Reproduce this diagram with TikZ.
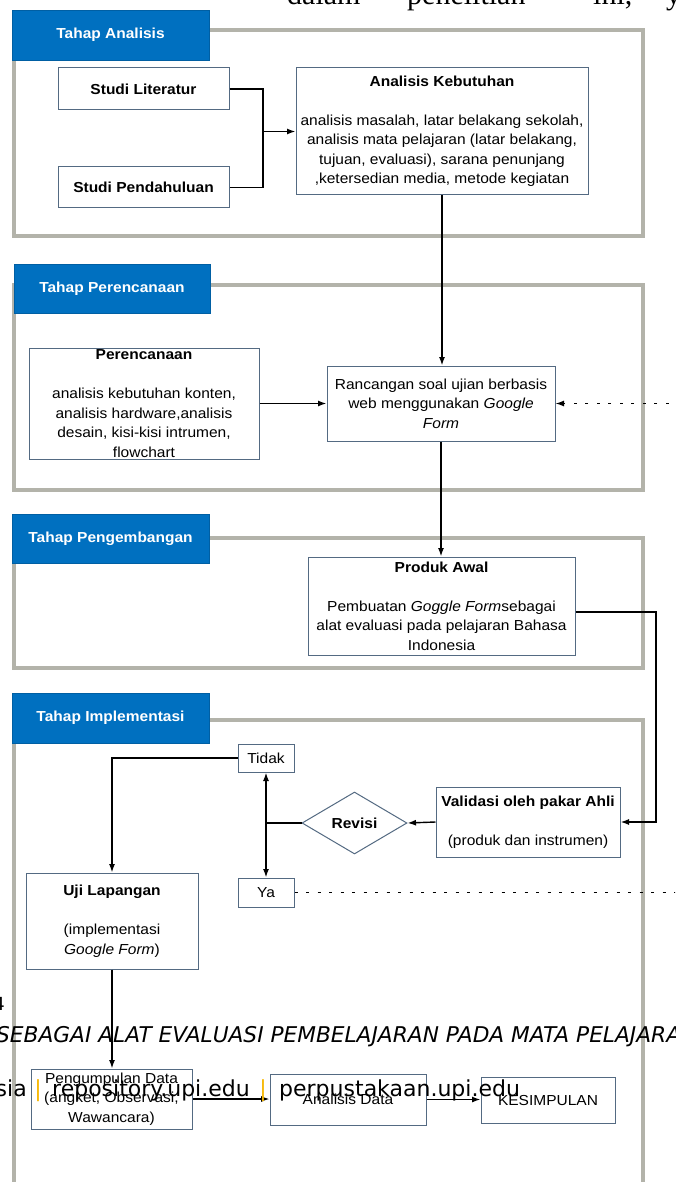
\documentclass[tikz,border=0pt]{standalone}
\usepackage{fontspec}
\setmainfont{Liberation Sans}[FakeStretch=1.07]
\newfontfamily\pageserif{Liberation Serif}
\newfontfamily\pagesans{DejaVu Sans}
\usetikzlibrary{arrows.meta,shapes.geometric}
\definecolor{hdrblue}{RGB}{0,112,192}
\definecolor{framegray}{RGB}{179,179,170}
\definecolor{boxedge}{RGB}{84,106,130}
\definecolor{upigold}{RGB}{247,183,0}
\begin{document}
\begin{tikzpicture}[x=1pt,y=-1pt,
  frame/.style={draw=framegray,line width=4pt},
  hdr/.style={fill=hdrblue,draw=hdrblue!85!black,line width=0.6pt,minimum width=197pt,minimum height=50pt,inner sep=0pt,
    text=white,font=\fontsize{14.5}{17}\selectfont\bfseries},
  bx/.style={draw=boxedge,fill=white,line width=1pt,inner sep=0pt,align=center,font=\fontsize{14.5}{19.5}\selectfont},
  ln/.style={line width=1.4pt},
  arr/.style={line width=1.4pt,-{Latex[length=8.5pt,width=6pt]}},
  dotarr/.style={line width=1.3pt,dash pattern=on 3pt off 8.5pt,-{Latex[length=8.5pt,width=6pt]}},
  pagetxt/.style={inner sep=0pt,text=black}]
\useasboundingbox (0,0) rectangle (675,1182);
\clip (0,0) rectangle (675,1182);
\fill[white] (0,0) rectangle (675,1182);

% frames
\draw[frame] (14,30) rectangle (643,236);
\draw[frame] (14,285) rectangle (643,490);
\draw[frame] (14,538) rectangle (643,668);
\draw[frame] (14,720) rectangle (643,1200);

% headers
\node[hdr] (h1) at (110.5,35) {Tahap Analisis};
\node[hdr,minimum width=196pt,minimum height=49pt] (h2) at (112,288.5) {Tahap Perencanaan};
\node[hdr,minimum height=49pt] (h3) at (110.5,538.5) {Tahap Pengembangan};
\node[hdr] (h4) at (110.5,718) {Tahap Implementasi};

% section 1
\node[bx,minimum width=171pt,minimum height=42pt] (sl) at (143.5,89) {\bfseries Studi Literatur};
\node[bx,minimum width=171pt,minimum height=41pt] (sp) at (143.5,187.5) {\bfseries Studi Pendahuluan};
\node[bx,minimum width=292pt,minimum height=127pt] (ak) at (442,131.5)
  {{\bfseries Analisis Kebutuhan}\\[19.5pt]
   analisis masalah, latar belakang sekolah,\\
   analisis mata pelajaran (latar belakang,\\
   tujuan, evaluasi), sarana penunjang\\
   ,ketersedian media, metode kegiatan};

% section 2
\node[bx,minimum width=230pt,minimum height=111pt] (per) at (144,403.5)
  {{\bfseries Perencanaan}\\[19.5pt]
   analisis kebutuhan konten,\\
   analisis hardware,analisis\\
   desain, kisi-kisi intrumen,\\
   flowchart};
\node[bx,minimum width=228pt,minimum height=75pt] (ranc) at (441,403.5)
  {Rancangan soal ujian berbasis\\
   web menggunakan \textit{Google}\\
   \textit{Form}};

% section 3
\node[bx,minimum width=267pt,minimum height=98pt] (prod) at (441.5,606)
  {{\bfseries Produk Awal}\\[19.5pt]
   Pembuatan \textit{Goggle Form}sebagai\\
   alat evaluasi pada pelajaran Bahasa\\
   Indonesia};

% section 4
\node[bx,minimum width=184pt,minimum height=70pt] (val) at (528,822)
  {{\bfseries Validasi oleh pakar Ahli}\\[19.5pt]
   (produk dan instrumen)};
\node[draw=boxedge,fill=white,line width=1pt,shape=diamond,minimum width=105pt,minimum height=62pt,
  inner sep=0pt,font=\fontsize{14.5}{17}\selectfont\bfseries] (rev) at (354.5,823) {Revisi};
\node[bx,minimum width=56pt,minimum height=28pt] (tid) at (266,758) {Tidak};
\node[bx,minimum width=56pt,minimum height=29pt] (ya) at (266,892.5) {Ya};
\node[bx,minimum width=172pt,minimum height=96pt] (uji) at (112,921)
  {{\bfseries Uji Lapangan}\\[19.5pt]
   (implementasi\\
   \textit{Google Form})};
\node[bx,minimum width=161pt,minimum height=60pt] (peng) at (111.5,1099)
  {Pengumpulan Data\\
   (angket, Observasi,\\
   Wawancara)};
\node[bx,minimum width=156pt,minimum height=51pt] (ad) at (348,1099.5) {Analisis Data};
\node[bx,minimum width=134pt,minimum height=46pt] (kes) at (548,1100) {KESIMPULAN};

% helper coordinates
\coordinate (m1) at (263,0);
\coordinate (pvx) at (656,0);
\coordinate (dx) at (720,0);
\coordinate (jn) at (tid.south |- rev.west);

% connectors
\draw[ln] (sl.east) -- (sl.east -| m1) -- (sp.east -| m1) -- (sp.east);
\draw[arr] (ak.west -| m1) -- (ak.west);
\draw[arr] (ak.south) -- (ak.south |- ranc.north);
\draw[arr] (per.east) -- (ranc.west);
\draw[arr] (ranc.south) -- (ranc.south |- prod.north);
\draw[arr] ([yshift=-6pt]prod.east) -- ([yshift=-6pt]prod.east -| pvx) -- (val.east -| pvx) -- (val.east);
\draw[arr] (val.west) -- (rev.east);
\draw[ln] (rev.west) -- (jn);
\draw[arr] (jn) -- (tid.south);
\draw[arr] (jn) -- (ya.north);
\draw[arr] (tid.west) -| (uji.north);
\draw[dotarr] (ya.east) -- (ya.east -| dx) -- (ranc.east -| dx) -- (ranc.east);
\draw[arr] (uji.south) -- (uji.south |- peng.north);
\draw[arr] (peng.east) -- (ad.west |- peng.east);
\draw[arr] (ad.east) -- (kes.west |- ad.east);

% page text showing through
\node[pagetxt,anchor=base west,font=\pageserif\fontsize{30}{30}\selectfont] (pw1) at (287,5) {dalam};
\node[pagetxt,anchor=base west,font=\pageserif\fontsize{30}{30}\selectfont] (pw2) at (407,5) {penelitian};
\node[pagetxt,anchor=base west,font=\pageserif\fontsize{30}{30}\selectfont] (pw3) at (593,5) {ini,};
\node[pagetxt,anchor=base west,font=\pageserif\fontsize{30}{30}\selectfont] (pw4) at (666,5) {y};
\node[pagetxt,anchor=base east,font=\pagesans\fontsize{18}{18}\selectfont] (pn) at (5,1010) {4};
\node[pagetxt,anchor=base west,font=\pagesans\itshape\fontsize{21.7}{21.7}\selectfont] (ft1) at (-4,1042)
  {SEBAGAI ALAT EVALUASI PEMBELAJARAN PADA MATA PELAJARAN};
\node[pagetxt,anchor=base east,font=\pagesans\fontsize{22}{22}\selectfont] (ft2) at (27,1096) {sia};
\node[pagetxt,anchor=base,text=upigold,font=\pagesans\fontsize{22}{22}\selectfont] (ft3) at (38,1096) {|};
\node[pagetxt,anchor=base west,font=\pagesans\fontsize{22}{22}\selectfont] (ft4) at (52,1096) {repository.upi.edu};
\node[pagetxt,anchor=base,text=upigold,font=\pagesans\fontsize{22}{22}\selectfont] (ft5) at (263,1096) {|};
\node[pagetxt,anchor=base west,font=\pagesans\fontsize{22}{22}\selectfont] (ft6) at (279,1096) {perpustakaan.upi.edu};
\end{tikzpicture}
\end{document}
